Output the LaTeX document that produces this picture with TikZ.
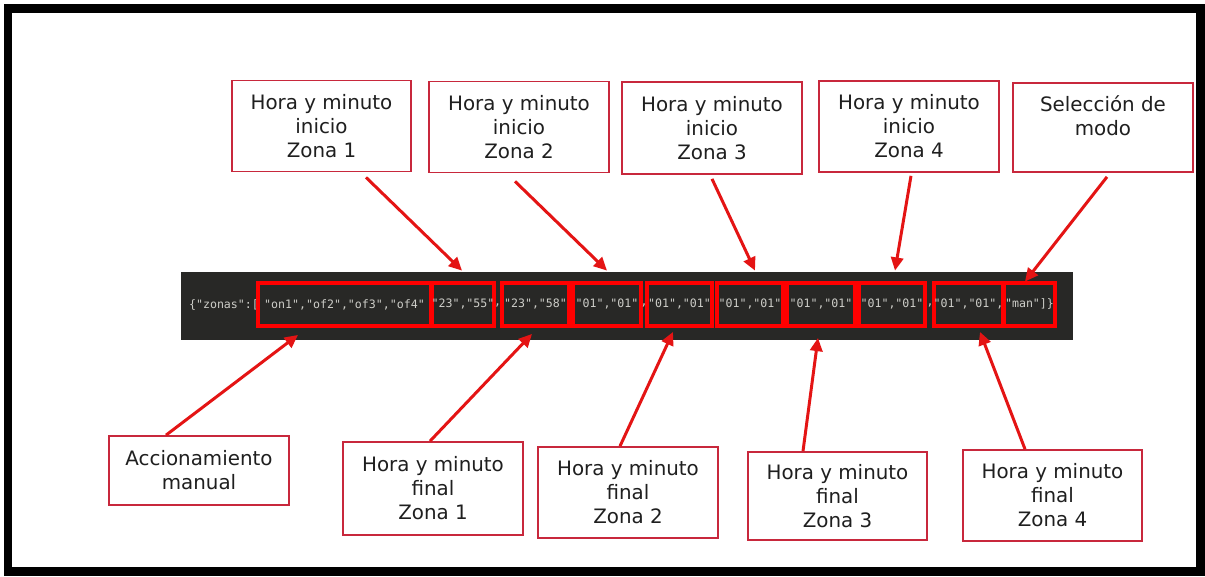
\documentclass[tikz,border=0pt]{standalone}
\usepackage{fontspec}
\setmainfont{DejaVu Sans}
\setmonofont{DejaVu Sans Mono}
\usetikzlibrary{arrows.meta}
\definecolor{lblred}{RGB}{200,40,60}
\definecolor{arwred}{RGB}{228,20,20}
\definecolor{codebg}{RGB}{40,40,38}
\definecolor{codetxt}{RGB}{205,205,200}

\begin{document}
\begin{tikzpicture}[x=0.02cm, y=-0.02cm,
        lbl/.style={draw=lblred, line width=1pt, fill=white, align=center, inner sep=0pt,
            minimum width=3.6cm, minimum height=1.82cm, text=black!88,
            font=\fontsize{11.3}{13.7}\selectfont},
        field/.style={draw=red, line width=2.2pt, inner sep=0pt, minimum height=0.86cm,
            text=codetxt, font=\ttfamily\fontsize{6.6}{7.5}\selectfont},
        code/.style={inner sep=0pt, text=codetxt, font=\ttfamily\fontsize{6.6}{7.5}\selectfont},
        arw/.style={draw=arwred, line width=1.7pt, -{Triangle[length=7.5pt,width=7pt]}}]
    \useasboundingbox (0,0) rectangle (1205,576);
    \fill[white] (0,0) rectangle (1205,576);
    \draw[line width=0.18cm] (8,8) rectangle (1200,571);

    % code line
    \node[fill=codebg, minimum width=17.84cm, minimum height=1.36cm, inner sep=0pt] (bar) at (627,306) {};
    \node[code] (pre) at (224,305) {\{"zonas":[};
    \node[field, minimum width=3.46cm] (f1) at (344.5,304.5) {"on1","of2","of3","of4"};
    \node[field, minimum width=1.2cm] (f2) at (463,304.5) {"23","55"};
    \node[code] (c1) at (497.5,305) {,};
    \node[field, minimum width=1.34cm] (f3) at (535.5,304.5) {"23","58"};
    \node[field, minimum width=1.36cm] (f4) at (607,304.5) {"01","01"};
    \node[code] (c2) at (644,305) {,};
    \node[field, minimum width=1.3cm] (f5) at (679.5,304.5) {"01","01"};
    \node[field, minimum width=1.32cm] (f6) at (750,304.5) {"01","01"};
    \node[field, minimum width=1.36cm] (f7) at (821,304.5) {"01","01"};
    \node[field, minimum width=1.32cm] (f8) at (892,304.5) {"01","01"};
    \node[code] (c3) at (930,305) {,};
    \node[field, minimum width=1.34cm] (f9) at (968.5,304.5) {"01","01",};
    \node[field, minimum width=1.02cm] (f10) at (1029.5,304.5) {"man"]\}};

    % labels above
    \node[lbl, minimum width=3.58cm] (ini1) at (321.5,126) {Hora y minuto\\inicio\\Zona 1};
    \node[lbl] (ini2) at (519,127) {Hora y minuto\\inicio\\Zona 2};
    \node[lbl, minimum height=1.84cm] (ini3) at (712,128) {Hora y minuto\\inicio\\Zona 3};
    \node[lbl] (ini4) at (909,126.5) {Hora y minuto\\inicio\\Zona 4};
    \node[lbl, minimum height=1.78cm] (modo) at (1103,127.5) {Selección de\\modo\\\mbox{}};

    % labels below
    \node[lbl, minimum height=1.38cm] (manual) at (199,470.5) {Accionamiento\\manual};
    \node[lbl, minimum height=1.86cm] (fin1) at (433,488.5) {Hora y minuto\\final\\Zona 1};
    \node[lbl] (fin2) at (628,492.5) {Hora y minuto\\final\\Zona 2};
    \node[lbl, minimum width=3.58cm, minimum height=1.76cm] (fin3) at (837.5,496) {Hora y minuto\\final\\Zona 3};
    \node[lbl, minimum width=3.58cm] (fin4) at (1052.5,495.5) {Hora y minuto\\final\\Zona 4};

    % arrows
    \draw[arw] ([xshift=0.89cm,yshift=-0.1cm]ini1.south) -- ([xshift=-0.02cm,yshift=0.21cm]f2.north);
    \draw[arw] ([xshift=-0.08cm,yshift=-0.16cm]ini2.south) -- ([yshift=0.21cm]f4.north);
    \draw[arw] ([yshift=-0.08cm]ini3.south) -- ([xshift=0.1cm,yshift=0.21cm]f6.north);
    \draw[arw] ([xshift=0.04cm,yshift=-0.06cm]ini4.south) -- ([xshift=0.06cm,yshift=0.21cm]f8.north);
    \draw[arw] ([xshift=0.08cm,yshift=-0.08cm]modo.south) -- ([xshift=-0.09cm,yshift=-0.01cm]f10.north);
    \draw[arw] ([xshift=-0.66cm]manual.north) -- ([xshift=-0.93cm,yshift=-0.14cm]f1.south);
    \draw[arw] ([xshift=-0.06cm]fin1.north) -- ([xshift=-0.07cm,yshift=-0.12cm]f3.south);
    \draw[arw] ([xshift=-0.16cm]fin2.north) -- ([xshift=-0.13cm,yshift=-0.08cm]f5.south);
    \draw[arw] ([xshift=-0.69cm]fin3.north) -- ([xshift=-0.06cm,yshift=-0.2cm]f7.south);
    \draw[arw] ([xshift=-0.55cm]fin4.north) -- ([xshift=0.23cm,yshift=-0.08cm]f9.south);
\end{tikzpicture}
\end{document}
